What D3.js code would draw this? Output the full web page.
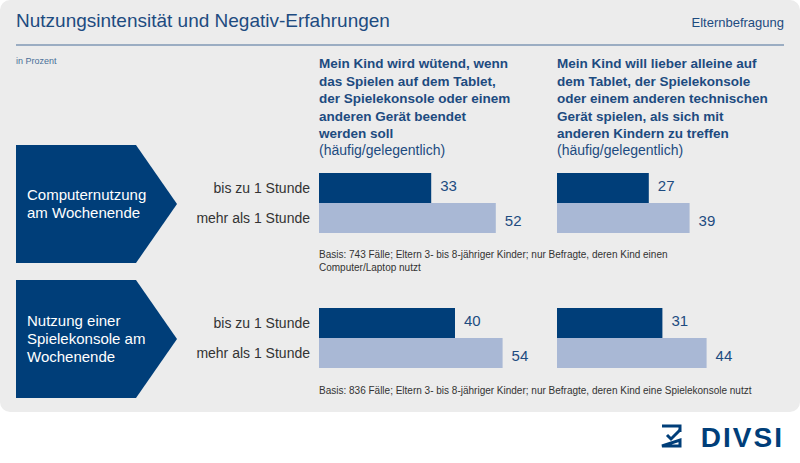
<!DOCTYPE html>
<html><head><meta charset="utf-8">
<script src="https://cdn.jsdelivr.net/npm/d3@7"></script>
<style>
body{margin:0;background:#fff;}
svg{font-family:"Liberation Sans Narrow","Liberation Sans",Arial,sans-serif;}
</style></head><body>
<div id="chart"></div>
<script>
const groups = ["Computernutzung|am Wochenende", "Nutzung einer|Spielekonsole am|Wochenende"];
const rows = ["bis zu 1 Stunde", "mehr als 1 Stunde"];
const wuetend = [[33, 52], [40, 54]];
const alleine = [[27, 39], [31, 44]];
const basis = [
  ["Basis: 743 Fälle; Eltern 3- bis 8-jähriger Kinder; nur Befragte, deren Kind einen", "Computer/Laptop nutzt"],
  ["Basis: 836 Fälle; Eltern 3- bis 8-jähriger Kinder; nur Befragte, deren Kind eine Spielekonsole nutzt"]
];
const headers = [
  ["Mein Kind wird wütend, wenn", "das Spielen auf dem Tablet,", "der Spielekonsole oder einem", "anderen Gerät beendet", "werden soll"],
  ["Mein Kind will lieber alleine auf", "dem Tablet, der Spielekonsole", "oder einem anderen technischen", "Gerät spielen, als sich mit", "anderen Kindern zu treffen"]
];

const DARK = "#003e79", LIGHT = "#a9b8d5", TXT = "#1d4b80";
const svg = d3.select("#chart").append("svg").attr("width", 800).attr("height", 463);

svg.append("rect").attr("x", 0).attr("y", 0).attr("width", 800).attr("height", 412)
  .attr("rx", 10).attr("fill", "#ececec");
svg.append("text").attr("x", 16).attr("y", 27).attr("font-size", 19).attr("fill", TXT)
  .text("Nutzungsintensität und Negativ-Erfahrungen");
svg.append("text").attr("x", 784).attr("y", 27).attr("font-size", 13).attr("fill", TXT)
  .attr("text-anchor", "end").text("Elternbefragung");
svg.append("line").attr("x1", 16).attr("x2", 784).attr("y1", 45).attr("y2", 45)
  .attr("stroke", "#4a6f99").attr("stroke-width", 1);
svg.append("text").attr("x", 16).attr("y", 64).attr("font-size", 9).attr("fill", "#4a6f99").text("in Prozent");

const cols = [319, 557];
headers.forEach((h, i) => {
  const t = svg.append("text").attr("font-size", 13.5).attr("fill", TXT).attr("font-weight", "bold");
  h.forEach((l, j) => t.append("tspan").attr("x", cols[i]).attr("y", 68 + j * 17.5).text(l));
  svg.append("text").attr("x", cols[i]).attr("y", 155).attr("font-size", 14).attr("fill", TXT)
    .text("(häufig/gelegentlich)");
});

const x = d3.scaleLinear().domain([0, 100]).range([0, 340]);
const groupTop = [145, 280];
const y = d3.scaleBand().domain(rows).range([0, 60]);
const series = [wuetend, alleine];

groups.forEach((g, gi) => {
  const top = groupTop[gi], h = 118;
  svg.append("path").attr("fill", DARK)
    .attr("d", `M16,${top}H136L177,${top + h / 2}L136,${top + h}H16Z`);
  const lines = g.split("|");
  const t = svg.append("text").attr("font-size", 15).attr("fill", "#fff");
  lines.forEach((l, j) => t.append("tspan").attr("x", 27)
    .attr("y", top + h / 2 + 5 + (j - (lines.length - 1) / 2) * 18).text(l));

  const by = top + 28;
  rows.forEach((r, ri) => {
    svg.append("text").attr("x", 310).attr("y", by + y(r) + y.bandwidth() / 2 + 5)
      .attr("text-anchor", "end").attr("font-size", 14).attr("fill", "#333").text(r);
  });
  series.forEach((s, si) => {
    const gg = svg.append("g").attr("transform", `translate(${cols[si]},${by})`);
    gg.selectAll("rect").data(s[gi]).join("rect")
      .attr("x", 0).attr("y", (d, i) => y(rows[i])).attr("width", d => x(d))
      .attr("height", y.bandwidth()).attr("fill", (d, i) => i ? LIGHT : DARK);
    gg.selectAll("text").data(s[gi]).join("text")
      .attr("x", d => x(d) + 9).attr("y", (d, i) => y(rows[i]) + y.bandwidth() / 2 + (i ? 8 : 3))
      .attr("font-size", 15).attr("fill", TXT).text(d => d);
  });
  const bt = svg.append("text").attr("font-size", 10).attr("fill", "#333");
  basis[gi].forEach((l, j) => bt.append("tspan").attr("x", cols[0])
    .attr("y", (gi ? 394 : 258) + j * 13).text(l));
});

// logo
const lg = svg.append("g").attr("transform", "translate(660,424)");
lg.append("path").attr("d", "M2,2H20V8M20,16V22H2Z").attr("fill", "none").attr("stroke", DARK).attr("stroke-width", 3);
lg.append("path").attr("d", "M7,11L11,15L20,6").attr("fill", "none").attr("stroke", DARK).attr("stroke-width", 3);
svg.append("text").attr("x", 784).attr("y", 447).attr("text-anchor", "end").attr("font-size", 28)
  .attr("font-weight", "bold").attr("fill", DARK).attr("letter-spacing", 2).text("DIVSI");
</script></body></html>
